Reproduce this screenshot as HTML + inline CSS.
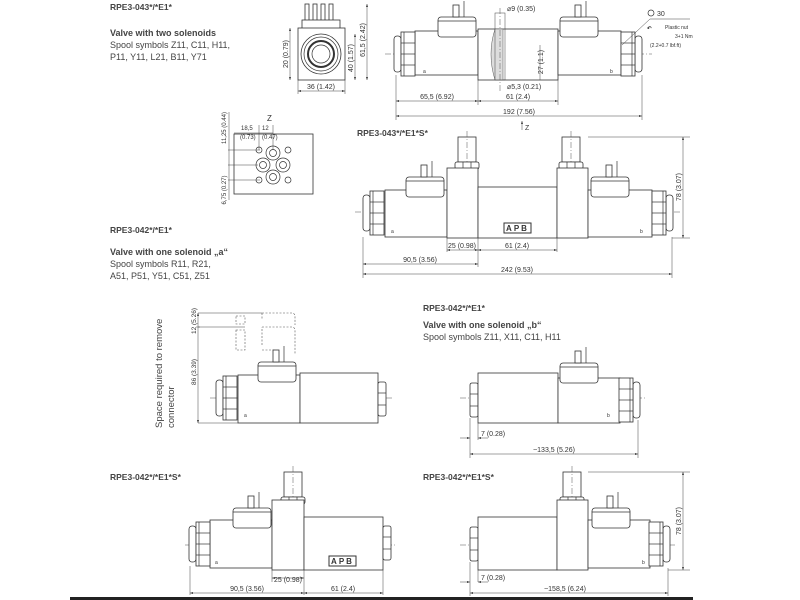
<!DOCTYPE html>
<html><head><meta charset="utf-8"><style>
html,body{margin:0;padding:0;background:#fff}
svg{display:block}
.l{stroke:#333;stroke-width:.8;fill:#fff}
.n{stroke:#333;stroke-width:.7;fill:none}
.d{stroke:#444;stroke-width:.5;fill:none}
.c{stroke:#555;stroke-width:.5;fill:none;stroke-dasharray:6 2 1 2}
.dash{stroke:#555;stroke-width:.6;fill:none;stroke-dasharray:2 1.5}
text{font-family:"Liberation Sans",sans-serif;fill:#333}
.t{font-size:8.5px;font-weight:bold;fill:#444}
.s{font-size:9px;fill:#444}
.sb{font-size:9px;font-weight:bold;fill:#444}
.dm{font-size:7px;fill:#333}
</style></head><body>
<svg width="800" height="600" viewBox="0 0 800 600" xmlns="http://www.w3.org/2000/svg">
<defs>
<marker id="a" markerWidth="6" markerHeight="4" refX="6" refY="2" orient="auto-start-reverse"><path d="M0,0 L6,2 L0,4z" fill="#333"/></marker>
<g id="conn">
<rect x="0" y="0" width="38" height="20" rx="3" class="l"/>
<line x1="0" y1="4" x2="38" y2="4" class="n"/>
<rect x="15" y="-12" width="6" height="12" class="l"/>
<line x1="26" y1="-16" x2="26" y2="0" class="n"/>
</g>
<g id="endL">
<rect x="0" y="4" width="7" height="36" rx="3" class="l"/>
<rect x="7" y="0" width="14" height="44" class="l"/>
<line x1="10" y1="0" x2="10" y2="44" class="n"/><line x1="7" y1="11" x2="21" y2="11" class="n"/><line x1="7" y1="22" x2="21" y2="22" class="n"/><line x1="7" y1="33" x2="21" y2="33" class="n"/>
</g>
<g id="hexL">
<rect x="0" y="0" width="8" height="34" rx="2" class="l"/>
<line x1="0" y1="11" x2="8" y2="11" class="n"/><line x1="0" y1="23" x2="8" y2="23" class="n"/>
</g>
<g id="stem">
<rect x="3" y="0" width="18" height="25" class="l"/>
<line x1="12" y1="-6" x2="12" y2="30" class="c"/>
<rect x="0" y="25" width="24" height="7" rx="2" class="l"/>
<line x1="8" y1="25" x2="8" y2="32" class="n"/><line x1="16" y1="25" x2="16" y2="32" class="n"/>
</g>
<g id="apb"><rect x="0" y="0" width="27" height="10" class="l" style="stroke-width:1"/><text x="13.5" y="8" text-anchor="middle" style="font-size:8px;font-weight:bold;letter-spacing:2px">APB</text></g>
</defs>

<!-- Section texts -->
<text x="110" y="10" class="t">RPE3-043*/*E1*</text>
<text x="110" y="36" class="sb">Valve with two solenoids</text>
<text x="110" y="48" class="s">Spool symbols Z11, C11, H11,</text>
<text x="110" y="60" class="s">P11, Y11, L21, B11, Y71</text>

<text x="110" y="233" class="t">RPE3-042*/*E1*</text>
<text x="110" y="255" class="sb">Valve with one solenoid „a“</text>
<text x="110" y="267" class="s">Spool symbols R11, R21,</text>
<text x="110" y="279" class="s">A51, P51, Y51, C51, Z51</text>

<text x="423" y="311" class="t">RPE3-042*/*E1*</text>
<text x="423" y="328" class="sb">Valve with one solenoid „b“</text>
<text x="423" y="340" class="s">Spool symbols Z11, X11, C11, H11</text>

<text x="110" y="480" class="t">RPE3-042*/*E1*S*</text>
<text x="423" y="480" class="t">RPE3-042*/*E1*S*</text>
<text x="357" y="136" class="t">RPE3-043*/*E1*S*</text>

<!-- Front view -->
<g>
<rect x="305" y="4" width="4" height="18" class="l"/><rect x="313" y="4" width="4" height="18" class="l"/><rect x="321" y="4" width="4" height="18" class="l"/><rect x="329" y="4" width="4" height="18" class="l"/>
<rect x="302" y="20" width="38" height="15" class="l"/>
<rect x="298" y="28" width="47" height="52" class="l"/>
<circle cx="321" cy="54" r="20" class="l"/><circle cx="321" cy="54" r="17" class="n"/><circle cx="321" cy="54" r="13" class="n" style="stroke-width:2"/><circle cx="321" cy="54" r="9" class="n"/>
<line x1="290" y1="28" x2="290" y2="80" class="d" marker-start="url(#a)" marker-end="url(#a)"/>
<text transform="translate(288,54) rotate(-90)" text-anchor="middle" class="dm">20 (0.79)</text>
<line x1="355" y1="34" x2="355" y2="80" class="d" marker-start="url(#a)" marker-end="url(#a)"/>
<text transform="translate(353,58) rotate(-90)" text-anchor="middle" class="dm">40 (1.57)</text>
<line x1="367" y1="4" x2="367" y2="80" class="d" marker-start="url(#a)" marker-end="url(#a)"/>
<text transform="translate(365,40) rotate(-90)" text-anchor="middle" class="dm">61,5 (2.42)</text>
<line x1="298" y1="91" x2="345" y2="91" class="d" marker-start="url(#a)" marker-end="url(#a)"/>
<text x="321" y="89" text-anchor="middle" class="dm">36 (1.42)</text>
<line x1="298" y1="80" x2="298" y2="94" class="d"/><line x1="345" y1="80" x2="345" y2="94" class="d"/>
</g>

<!-- Z port pattern -->
<g>
<text x="267" y="121" class="dm" style="font-size:8px">Z</text>
<rect x="234" y="134" width="79" height="60" class="l"/>
<circle cx="273" cy="153" r="7" class="n"/><circle cx="273" cy="153" r="3.5" class="n"/>
<circle cx="263" cy="165" r="7" class="n"/><circle cx="263" cy="165" r="3.5" class="n"/>
<circle cx="283" cy="165" r="7" class="n"/><circle cx="283" cy="165" r="3.5" class="n"/>
<circle cx="273" cy="177" r="7" class="n"/><circle cx="273" cy="177" r="3.5" class="n"/>
<circle cx="259" cy="150" r="3" class="n"/><circle cx="288" cy="150" r="3" class="n"/><circle cx="259" cy="180" r="3" class="n"/><circle cx="288" cy="180" r="3" class="n"/>
<line x1="228" y1="150" x2="260" y2="150" class="d"/><line x1="228" y1="180" x2="260" y2="180" class="d"/><line x1="228" y1="165" x2="258" y2="165" class="d"/>
<line x1="229" y1="112" x2="229" y2="200" class="d"/>
<text transform="translate(226,128) rotate(-90)" text-anchor="middle" class="dm" style="font-size:6px">11,25 (0.44)</text>
<text transform="translate(226,190) rotate(-90)" text-anchor="middle" class="dm" style="font-size:6px">6,75 (0.27)</text>
<line x1="234" y1="133" x2="273" y2="133" class="d"/><line x1="259" y1="125" x2="259" y2="150" class="d"/><line x1="273" y1="125" x2="273" y2="150" class="d"/>
<text x="241" y="130" class="dm" style="font-size:6px">18,5</text><text x="262" y="130" class="dm" style="font-size:6px">12</text>
<text x="240" y="139" class="dm" style="font-size:6px">(0.73)</text><text x="262" y="139" class="dm" style="font-size:6px">(0.47)</text>
</g>

<!-- Top valve two solenoids -->
<g>
<line x1="385" y1="54" x2="652" y2="54" class="c"/>
<rect x="415" y="31" width="63" height="44" class="l"/>
<use href="#endL" x="394" y="32"/>
<use href="#conn" x="438" y="17"/>
<rect x="478" y="29" width="80" height="51" class="l"/>
<path d="M495,29 Q487,54 495,80 L503,80 L503,29z" fill="#ddd" stroke="#555" stroke-width=".5"/>
<rect x="495" y="13" width="10" height="67" fill="none" class="d"/>
<line x1="500" y1="8" x2="500" y2="92" class="c"/>
<rect x="558" y="31" width="63" height="44" class="l"/>
<g transform="translate(642,32) scale(-1,1)"><use href="#endL"/></g>
<use href="#conn" x="560" y="17"/>
<text x="423" y="73" class="dm" style="font-size:5px">a</text><text x="610" y="73" class="dm" style="font-size:5px">b</text>
<text x="507" y="11" class="dm">⌀9 (0.35)</text>
<text x="507" y="89" class="dm">⌀5,3 (0.21)</text>
<line x1="540" y1="45" x2="540" y2="80" class="d"/>
<text transform="translate(543,62) rotate(-90)" text-anchor="middle" class="dm">27 (1.1)</text>
<line x1="396" y1="75" x2="396" y2="120" class="d"/><line x1="478" y1="80" x2="478" y2="105" class="d"/><line x1="558" y1="80" x2="558" y2="105" class="d"/><line x1="642" y1="75" x2="642" y2="120" class="d"/>
<line x1="396" y1="101" x2="478" y2="101" class="d" marker-start="url(#a)" marker-end="url(#a)"/>
<text x="437" y="99" text-anchor="middle" class="dm">65,5 (6.92)</text>
<line x1="478" y1="101" x2="558" y2="101" class="d" marker-start="url(#a)" marker-end="url(#a)"/>
<text x="518" y="99" text-anchor="middle" class="dm">61 (2.4)</text>
<line x1="396" y1="116" x2="642" y2="116" class="d" marker-start="url(#a)" marker-end="url(#a)"/>
<text x="519" y="114" text-anchor="middle" class="dm">192 (7.56)</text>
<line x1="522" y1="130" x2="522" y2="121" class="d" marker-end="url(#a)"/><text x="525" y="130" class="dm">Z</text>
<circle cx="651" cy="13" r="3" class="n"/><text x="657" y="16" class="dm">30</text>
<line x1="650" y1="19" x2="690" y2="19" class="d"/><line x1="650" y1="19" x2="622" y2="45" class="d"/>
<text x="647" y="30" class="dm" style="font-size:5.5px;font-weight:bold">↶</text>
<text x="665" y="29" class="dm" style="font-size:5px">Plastic nut</text>
<text x="675" y="38" class="dm" style="font-size:5px">3+1 Nm</text>
<text x="650" y="47" class="dm" style="font-size:5px">(2.2+0.7 lbf.ft)</text>
</g>

<!-- RPE3-043 S -->
<g>
<line x1="355" y1="212" x2="680" y2="212" class="c"/>
<rect x="385" y="190" width="62" height="47" class="l"/>
<use href="#endL" x="363" y="191"/>
<use href="#conn" x="406" y="177"/>
<use href="#stem" x="455" y="137"/>
<rect x="447" y="168" width="31" height="70" class="l"/>
<rect x="478" y="187" width="79" height="51" class="l"/>
<use href="#stem" x="559" y="137"/>
<rect x="557" y="168" width="31" height="70" class="l"/>
<rect x="588" y="190" width="64" height="47" class="l"/>
<use href="#conn" x="591" y="177"/>
<g transform="translate(673,191) scale(-1,1)"><use href="#endL"/></g>
<use href="#apb" x="504" y="223"/>
<text x="391" y="233" class="dm" style="font-size:5px">a</text><text x="640" y="233" class="dm" style="font-size:5px">b</text>
<line x1="363" y1="237" x2="363" y2="278" class="d"/><line x1="447" y1="238" x2="447" y2="252" class="d"/><line x1="478" y1="238" x2="478" y2="267" class="d"/><line x1="557" y1="238" x2="557" y2="252" class="d"/><line x1="672" y1="237" x2="672" y2="278" class="d"/>
<line x1="447" y1="250" x2="478" y2="250" class="d" marker-start="url(#a)" marker-end="url(#a)"/>
<text x="462" y="248" text-anchor="middle" class="dm">25 (0.98)</text>
<line x1="478" y1="250" x2="557" y2="250" class="d" marker-start="url(#a)" marker-end="url(#a)"/>
<text x="517" y="248" text-anchor="middle" class="dm">61 (2.4)</text>
<line x1="363" y1="264" x2="478" y2="264" class="d" marker-start="url(#a)" marker-end="url(#a)"/>
<text x="420" y="262" text-anchor="middle" class="dm">90,5 (3.56)</text>
<line x1="363" y1="274" x2="672" y2="274" class="d" marker-start="url(#a)" marker-end="url(#a)"/>
<text x="517" y="272" text-anchor="middle" class="dm">242 (9.53)</text>
<line x1="588" y1="137" x2="690" y2="137" class="d"/><line x1="672" y1="238" x2="690" y2="238" class="d"/>
<line x1="683" y1="137" x2="683" y2="238" class="d" marker-start="url(#a)" marker-end="url(#a)"/>
<text transform="translate(681,187) rotate(-90)" text-anchor="middle" class="dm">78 (3.07)</text>
</g>

<!-- one solenoid a -->
<g>
<text transform="translate(162,428) rotate(-90)" class="s" style="font-size:9.5px">Space required to remove</text>
<text transform="translate(174,428) rotate(-90)" class="s" style="font-size:9.5px">connector</text>
<line x1="198" y1="313" x2="198" y2="423" class="d" marker-start="url(#a)" marker-end="url(#a)"/>
<line x1="196" y1="327" x2="200" y2="327" class="d"/>
<line x1="198" y1="313" x2="262" y2="313" class="d"/><line x1="198" y1="327" x2="245" y2="327" class="d"/>
<text transform="translate(196,321) rotate(-90)" text-anchor="middle" class="dm" style="font-size:6.5px">12 (5.26)</text>
<text transform="translate(196,372) rotate(-90)" text-anchor="middle" class="dm" style="font-size:6.5px">86 (3.39)</text>
<path d="M262,313 h30 a3,3 0 0 1 3,3 v9 M262,327 h30 a3,3 0 0 1 3,3 v24 M262,345 v-18 M262,350 h14 M262,313 v7" class="dash"/>
<rect x="236" y="316" width="9" height="8" class="dash"/><rect x="236" y="330" width="9" height="20" class="dash"/>
<line x1="210" y1="398" x2="392" y2="398" class="c"/>
<rect x="238" y="375" width="62" height="48" class="l"/>
<use href="#endL" x="216" y="376"/>
<use href="#conn" x="258" y="362"/>
<rect x="300" y="373" width="78" height="50" class="l"/>
<use href="#hexL" x="378" y="382"/>
<text x="244" y="417" class="dm" style="font-size:5px">a</text>
<line x1="198" y1="423" x2="238" y2="423" class="d"/>
</g>

<!-- one solenoid b -->
<g>
<line x1="460" y1="398" x2="645" y2="398" class="c"/>
<use href="#hexL" x="470" y="383"/>
<rect x="478" y="373" width="80" height="50" class="l"/>
<rect x="558" y="378" width="62" height="45" class="l"/>
<use href="#conn" x="560" y="363"/>
<g transform="translate(640,378) scale(-1,1)"><use href="#endL"/></g>
<text x="607" y="417" class="dm" style="font-size:5px">b</text>
<line x1="470" y1="418" x2="470" y2="458" class="d"/><line x1="478" y1="423" x2="478" y2="440" class="d"/><line x1="638" y1="420" x2="638" y2="458" class="d"/>
<line x1="460" y1="438" x2="470" y2="438" class="d" marker-end="url(#a)"/>
<line x1="488" y1="438" x2="478" y2="438" class="d" marker-end="url(#a)"/>
<text x="481" y="436" class="dm">7 (0.28)</text>
<line x1="470" y1="454" x2="638" y2="454" class="d" marker-start="url(#a)" marker-end="url(#a)"/>
<text x="554" y="452" text-anchor="middle" class="dm">~133,5 (5.26)</text>
</g>

<!-- bottom left -->
<g>
<line x1="185" y1="545" x2="395" y2="545" class="c"/>
<rect x="210" y="520" width="62" height="48" class="l"/>
<use href="#endL" x="189" y="522"/>
<use href="#conn" x="233" y="508"/>
<use href="#stem" x="281" y="472"/>
<rect x="272" y="500" width="32" height="70" class="l"/>
<rect x="304" y="517" width="79" height="53" class="l"/>
<use href="#hexL" x="383" y="526"/>
<use href="#apb" x="329" y="556"/>
<text x="215" y="564" class="dm" style="font-size:5px">a</text>
<line x1="190" y1="566" x2="190" y2="595" class="d"/><line x1="272" y1="570" x2="272" y2="582" class="d"/><line x1="304" y1="570" x2="304" y2="595" class="d"/><line x1="383" y1="570" x2="383" y2="595" class="d"/>
<line x1="272" y1="578" x2="304" y2="578" class="d" marker-start="url(#a)" marker-end="url(#a)"/>
<text x="288" y="582" text-anchor="middle" class="dm">25 (0.98)</text>
<line x1="190" y1="593" x2="304" y2="593" class="d" marker-start="url(#a)" marker-end="url(#a)"/>
<text x="247" y="591" text-anchor="middle" class="dm">90,5 (3.56)</text>
<line x1="304" y1="593" x2="383" y2="593" class="d" marker-start="url(#a)" marker-end="url(#a)"/>
<text x="343" y="591" text-anchor="middle" class="dm">61 (2.4)</text>
</g>

<!-- bottom right -->
<g>
<line x1="460" y1="545" x2="675" y2="545" class="c"/>
<use href="#hexL" x="470" y="527"/>
<rect x="478" y="517" width="79" height="53" class="l"/>
<use href="#stem" x="560" y="472"/>
<rect x="557" y="500" width="31" height="70" class="l"/>
<rect x="588" y="520" width="62" height="48" class="l"/>
<use href="#conn" x="592" y="508"/>
<g transform="translate(670,522) scale(-1,1)"><use href="#endL"/></g>
<text x="642" y="564" class="dm" style="font-size:5px">b</text>
<line x1="470" y1="562" x2="470" y2="596" class="d"/><line x1="478" y1="570" x2="478" y2="582" class="d"/><line x1="668" y1="568" x2="668" y2="596" class="d"/>
<line x1="460" y1="582" x2="470" y2="582" class="d" marker-end="url(#a)"/>
<line x1="488" y1="582" x2="478" y2="582" class="d" marker-end="url(#a)"/>
<text x="481" y="580" class="dm">7 (0.28)</text>
<line x1="470" y1="593" x2="668" y2="593" class="d" marker-start="url(#a)" marker-end="url(#a)"/>
<text x="565" y="591" text-anchor="middle" class="dm">~158,5 (6.24)</text>
<line x1="588" y1="472" x2="690" y2="472" class="d"/><line x1="668" y1="570" x2="690" y2="570" class="d"/>
<line x1="683" y1="472" x2="683" y2="570" class="d" marker-start="url(#a)" marker-end="url(#a)"/>
<text x="681" y="521" text-anchor="middle" transform="rotate(-90 681 521)" class="dm">78 (3.07)</text>
</g>

<rect x="70" y="597" width="623" height="3" fill="#222"/>
</svg>
</body></html>
